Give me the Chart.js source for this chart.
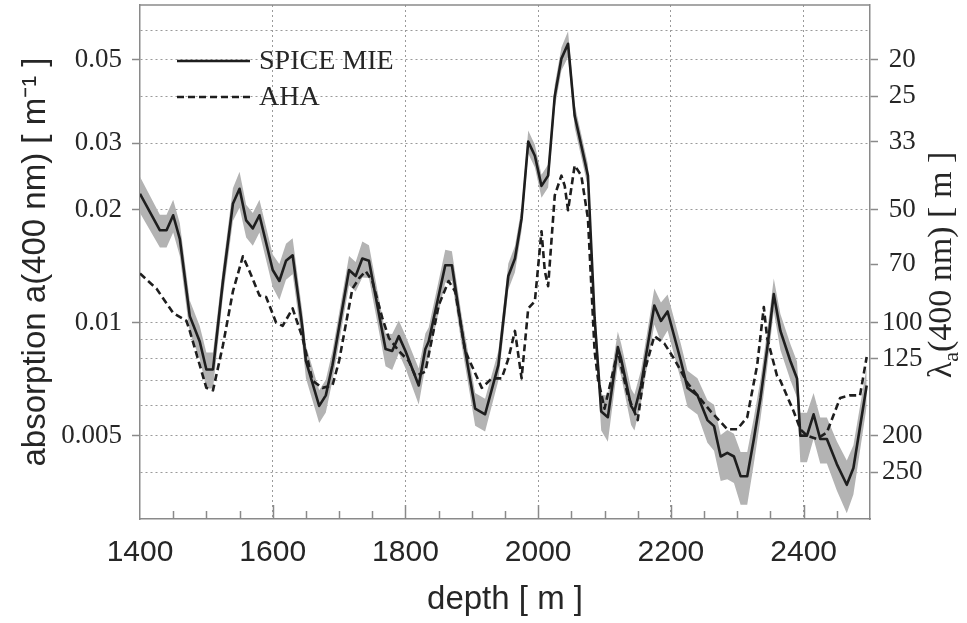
<!DOCTYPE html>
<html>
<head>
<meta charset="utf-8">
<script src="https://cdn.jsdelivr.net/npm/chart.js@4.4.0/dist/chart.umd.min.js"></script>
<style>
  body { margin: 0; background: #fff; }
</style>
</head>
<body>
<canvas id="chart" width="967" height="623"></canvas>
<script>
// SPICE MIE absorption (with error band) and AHA model
const spiceDepth = [1400, 1430, 1440, 1450, 1460, 1475, 1490, 1500, 1510, 1525,
  1540, 1550, 1560, 1570, 1580, 1600, 1610, 1620, 1630, 1645,
  1650, 1670, 1680, 1690, 1715, 1725, 1735, 1745, 1770, 1780,
  1790, 1800, 1820, 1830, 1835, 1860, 1870, 1885, 1905, 1920,
  1940, 1955, 1965, 1975, 1985, 1995, 2005, 2015, 2025, 2035,
  2045, 2055, 2065, 2075, 2085, 2095, 2105, 2120, 2125, 2140,
  2145, 2155, 2175, 2185, 2195, 2215, 2225, 2240, 2255, 2265,
  2275, 2285, 2295, 2305, 2315, 2325, 2335, 2345, 2355, 2365,
  2380, 2390, 2395, 2405, 2415, 2425, 2435, 2450, 2465, 2475, 2495];
const spiceValue = [0.0220, 0.0176, 0.0176, 0.0193, 0.0167, 0.0104, 0.0089, 0.0075, 0.0075, 0.0129,
  0.0207, 0.0227, 0.0187, 0.0178, 0.0193, 0.0138, 0.0129, 0.0146, 0.0151, 0.0096,
  0.0079, 0.0060, 0.0064, 0.0077, 0.0138, 0.0133, 0.0148, 0.0146, 0.0085, 0.0084,
  0.0092, 0.0084, 0.0068, 0.0085, 0.0089, 0.0142, 0.0142, 0.0095, 0.0059, 0.0057,
  0.0077, 0.0133, 0.0148, 0.0189, 0.0303, 0.0278, 0.0231, 0.0246, 0.0401, 0.0504,
  0.0552, 0.0355, 0.0296, 0.0246, 0.0103, 0.0058, 0.0056, 0.0086, 0.0080, 0.0060,
  0.0058, 0.0068, 0.0111, 0.0101, 0.0107, 0.0079, 0.0067, 0.0064, 0.0055, 0.0053,
  0.0044, 0.0045, 0.0044, 0.0039, 0.0039, 0.0049, 0.0063, 0.0085, 0.0119, 0.0095,
  0.0079, 0.0071, 0.0050, 0.0050, 0.0057, 0.0049, 0.0049, 0.0042, 0.0037, 0.0041, 0.0068];
// relative half-width of the grey band
const spiceError = [0.11, 0.10, 0.10, 0.10, 0.10, 0.10, 0.10, 0.11, 0.11, 0.09,
  0.10, 0.11, 0.10, 0.10, 0.10, 0.10, 0.11, 0.11, 0.11, 0.10,
  0.10, 0.10, 0.10, 0.09, 0.09, 0.09, 0.11, 0.10, 0.10, 0.11,
  0.10, 0.10, 0.11, 0.10, 0.09, 0.10, 0.09, 0.09, 0.10, 0.10,
  0.09, 0.08, 0.08, 0.07, 0.07, 0.07, 0.07, 0.07, 0.07, 0.07,
  0.08, 0.07, 0.07, 0.07, 0.08, 0.11, 0.14, 0.10, 0.10, 0.11,
  0.11, 0.10, 0.11, 0.12, 0.11, 0.11, 0.11, 0.11, 0.13, 0.14,
  0.14, 0.15, 0.15, 0.16, 0.16, 0.14, 0.12, 0.11, 0.10, 0.11,
  0.11, 0.11, 0.15, 0.15, 0.14, 0.14, 0.14, 0.15, 0.16, 0.15, 0.12];

const ahaDepth = [1400, 1425, 1450, 1470, 1475, 1500, 1510, 1525, 1540, 1555,
  1565, 1580, 1590, 1605, 1615, 1630, 1645, 1660, 1675, 1690,
  1700, 1720, 1730, 1740, 1750, 1765, 1775, 1790, 1805, 1815,
  1830, 1850, 1865, 1875, 1890, 1915, 1930, 1945, 1955, 1965,
  1975, 1985, 1995, 2005, 2010, 2015, 2025, 2035, 2040, 2045,
  2055, 2065, 2075, 2085, 2090, 2100, 2120, 2135, 2150, 2160,
  2175, 2190, 2205, 2225, 2240, 2260, 2285, 2300, 2315, 2330,
  2340, 2345, 2360, 2365, 2385, 2395, 2405, 2420, 2435, 2455,
  2470, 2485, 2495];
const ahaValue = [0.0135, 0.0123, 0.0106, 0.0101, 0.0095, 0.0067, 0.0066, 0.0087, 0.0121, 0.0150,
  0.0137, 0.0118, 0.0117, 0.0100, 0.0098, 0.0109, 0.0091, 0.0070, 0.0067, 0.0068,
  0.0079, 0.0123, 0.0131, 0.0137, 0.0129, 0.0103, 0.0091, 0.0084, 0.0079, 0.0072,
  0.0074, 0.0111, 0.0129, 0.0121, 0.0084, 0.0067, 0.0071, 0.0071, 0.0080, 0.0095,
  0.0071, 0.0109, 0.0114, 0.0175, 0.0137, 0.0125, 0.0218, 0.0246, 0.0231, 0.0199,
  0.0262, 0.0246, 0.0189, 0.0084, 0.0071, 0.0059, 0.0084, 0.0064, 0.0055, 0.0074,
  0.0092, 0.0088, 0.0080, 0.0069, 0.0064, 0.0058, 0.0052, 0.0052, 0.0056, 0.0077,
  0.0110, 0.0091, 0.0072, 0.0070, 0.0058, 0.0052, 0.0050, 0.0049, 0.0051, 0.0063,
  0.0064, 0.0064, 0.0081];

const depthTicks = [1400, 1600, 1800, 2000, 2200, 2400];
const depthMinorStep = 50;
const absorptionGrid = [0.004, 0.005, 0.006, 0.007, 0.008, 0.009, 0.01, 0.02, 0.03, 0.04, 0.05, 0.06];
const absorptionLabels = [0.005, 0.01, 0.02, 0.03, 0.05];
const lambdaTicks = [20, 25, 33, 50, 70, 100, 125, 200, 250];

const serif = '"Liberation Serif", "Times New Roman", serif';
const sans = '"Liberation Sans", Arial, sans-serif';
const ink = '#262626';
const gridGrey = '#9a9a9a';
const frameGrey = '#8a8a8a';

const toPoints = (xs, ys) => xs.map((x, i) => ({x, y: ys[i]}));
const bandHigh = spiceDepth.map((x, i) => ({x, y: spiceValue[i] * (1 + spiceError[i])}));
const bandLow = spiceDepth.map((x, i) => ({x, y: spiceValue[i] * (1 - spiceError[i])}));

// stop Chart.js from reserving room for half tick labels at the ends of the axes
const noEdgePadding = s => {
  s.paddingTop = 0;
  s.paddingBottom = 0;
  s.paddingLeft = 0;
  s.paddingRight = 0;
};

// top border of the frame and the inward minor ticks of the depth axis
const framePlugin = {
  id: 'frame',
  afterDraw(chart) {
    const {ctx, chartArea: a} = chart;
    const xs = chart.scales.x;
    ctx.save();
    ctx.strokeStyle = frameGrey;
    ctx.lineWidth = 1.5;
    ctx.beginPath();
    ctx.moveTo(a.left, a.top);
    ctx.lineTo(a.right, a.top);
    for (let d = xs.min + depthMinorStep; d < xs.max; d += depthMinorStep) {
      const px = Math.round(xs.getPixelForValue(d)) + 0.5;
      const len = depthTicks.includes(d) ? 14 : 8;
      ctx.moveTo(px, a.bottom);
      ctx.lineTo(px, a.bottom - len);
    }
    ctx.stroke();
    ctx.restore();
  }
};

// legend inside the plot, top left
const legendPlugin = {
  id: 'insideLegend',
  afterDraw(chart) {
    const {ctx, chartArea: a} = chart;
    const rows = [0, 1];
    ctx.save();
    ctx.font = `28px ${serif}`;
    ctx.textBaseline = 'middle';
    rows.forEach((di, r) => {
      const ds = chart.data.datasets[di];
      const y = a.top + 56 + r * 36;
      ctx.strokeStyle = ds.borderColor;
      ctx.lineWidth = ds.borderWidth;
      ctx.setLineDash(ds.borderDash || []);
      ctx.beginPath();
      ctx.moveTo(a.left + 37, y);
      ctx.lineTo(a.left + 110, y);
      ctx.stroke();
      ctx.fillStyle = ink;
      ctx.fillText(ds.label, a.left + 119, y + 1);
    });
    ctx.restore();
  }
};

// right axis title, reading upward, with subscript a
const rightTitlePlugin = {
  id: 'rightTitle',
  afterDraw(chart) {
    const {ctx, chartArea: a} = chart;
    const big = `34px ${serif}`;
    const small = `22px ${serif}`;
    ctx.save();
    ctx.translate(a.right + 81, (a.top + a.bottom) / 2 + 3);
    ctx.rotate(-Math.PI / 2);
    ctx.fillStyle = ink;
    ctx.textBaseline = 'alphabetic';
    ctx.font = big;
    const w1 = ctx.measureText('λ').width;
    const w3 = ctx.measureText('(400 nm) [ m ]').width;
    ctx.font = small;
    const w2 = ctx.measureText('a').width;
    let x = -(w1 + w2 + w3) / 2;
    ctx.font = big;
    ctx.fillText('λ', x, 0);
    x += w1;
    ctx.font = small;
    ctx.fillText('a', x, 7);
    x += w2;
    ctx.font = big;
    ctx.fillText('(400 nm) [ m ]', x, 0);
    ctx.restore();
  }
};

new Chart(document.getElementById('chart'), {
  type: 'line',
  data: {
    datasets: [
      {
        label: 'SPICE MIE',
        data: toPoints(spiceDepth, spiceValue),
        borderColor: '#1e1e1e',
        borderWidth: 2.6,
        pointRadius: 0,
        borderJoinStyle: 'round',
        order: 0
      },
      {
        label: 'AHA',
        data: toPoints(ahaDepth, ahaValue),
        borderColor: '#1e1e1e',
        borderWidth: 2.6,
        borderDash: [7, 4],
        pointRadius: 0,
        borderJoinStyle: 'round',
        order: 1
      },
      {
        label: 'band high',
        data: bandHigh,
        borderWidth: 0,
        pointRadius: 0,
        backgroundColor: '#b3b3b3',
        fill: '+1',
        order: 2
      },
      {
        label: 'band low',
        data: bandLow,
        borderWidth: 0,
        pointRadius: 0,
        fill: false,
        order: 3
      }
    ]
  },
  options: {
    responsive: false,
    animation: false,
    layout: { padding: { top: 5, left: 0, right: 0, bottom: 0 } },
    plugins: {
      legend: { display: false },
      tooltip: { enabled: false }
    },
    scales: {
      x: {
        type: 'linear',
        min: 1400,
        max: 2500,
        afterBuildTicks: s => { s.ticks = depthTicks.map(v => ({value: v})); },
        afterFit: s => { s.height = 104; noEdgePadding(s); },
        grid: {
          drawTicks: false,
          color: c => (c.tick && c.tick.value === 1400 ? 'transparent' : gridGrey),
          lineWidth: 1
        },
        border: { color: frameGrey, width: 1.5, dash: [2, 3] },
        ticks: {
          padding: 16,
          color: ink,
          maxRotation: 0,
          autoSkip: false,
          font: { family: sans, size: 30 },
          callback: v => String(v)
        },
        title: {
          display: true,
          text: 'depth [ m ]',
          color: ink,
          font: { family: sans, size: 33 },
          padding: { top: 0, bottom: 3 }
        }
      },
      y: {
        type: 'logarithmic',
        position: 'left',
        min: 0.003,
        max: 0.07,
        afterBuildTicks: s => { s.ticks = absorptionGrid.map(v => ({value: v})); },
        afterFit: s => { s.width = 140; noEdgePadding(s); },
        grid: {
          color: gridGrey,
          lineWidth: 1,
          tickLength: 8,
          tickColor: c => (c.tick && absorptionLabels.includes(c.tick.value) ? frameGrey : 'transparent'),
          tickWidth: 1.5
        },
        border: { color: frameGrey, width: 1.5, dash: [2, 3] },
        ticks: {
          padding: 10,
          color: ink,
          autoSkip: false,
          font: { family: serif, size: 27 },
          callback: v => (absorptionLabels.includes(v) ? String(v) : '')
        },
        title: {
          display: true,
          text: 'absorption a(400 nm) [ m\u207B\u00B9 ]',
          color: ink,
          font: { family: sans, size: 33 },
          padding: { top: 16, bottom: 0 }
        }
      },
      y2: {
        type: 'logarithmic',
        position: 'right',
        min: 0.003,
        max: 0.07,
        afterBuildTicks: s => { s.ticks = lambdaTicks.map(l => ({value: 1 / l})); },
        afterFit: s => { s.width = 97; noEdgePadding(s); },
        grid: {
          drawOnChartArea: false,
          tickLength: 8,
          tickColor: frameGrey,
          tickWidth: 1.5
        },
        border: { color: frameGrey, width: 1.5 },
        ticks: {
          padding: 4,
          crossAlign: 'center',
          color: ink,
          autoSkip: false,
          font: { family: serif, size: 27 },
          callback: (v, i) => String(lambdaTicks[i])
        }
      }
    }
  },
  plugins: [framePlugin, legendPlugin, rightTitlePlugin]
});
</script>
</body>
</html>
